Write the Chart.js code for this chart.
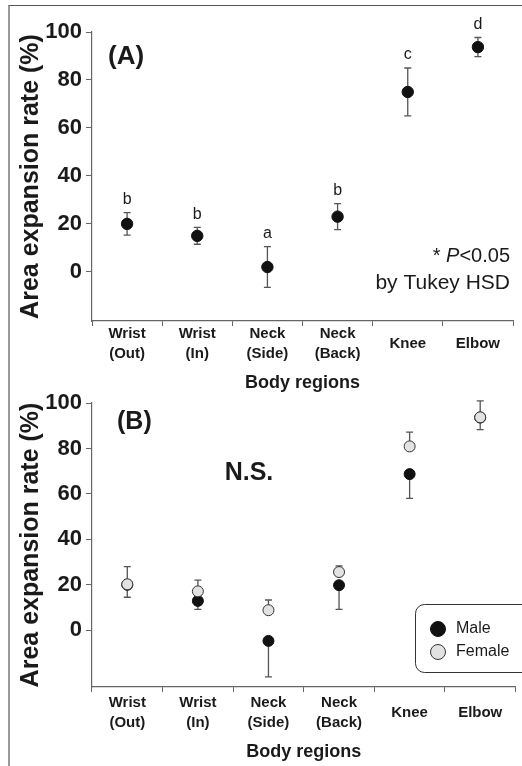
<!DOCTYPE html>
<html>
<head>
<meta charset="utf-8">
<script src="https://cdn.jsdelivr.net/npm/chart.js@4.4.0/dist/chart.umd.min.js"></script>
<style>
  body { margin: 0; background: #fff; }
  #wrap { position: relative; width: 522px; height: 766px; overflow: hidden; }
  #frame { position: absolute; left: 8px; top: 5px; right: 0; bottom: 0;
           border-top: 1px solid #555; border-left: 2px solid #999; }
  canvas { position: absolute; left: 0; }
  #chartA { top: 0; }
  #chartB { top: 370px; }
</style>
</head>
<body>
<div id="wrap">
  <div id="frame"></div>
  <canvas id="chartA" width="522" height="394"></canvas>
  <canvas id="chartB" width="522" height="396"></canvas>
</div>
<script>
// body regions on the x axis
const regions = [['Wrist', '(Out)'], ['Wrist', '(In)'], ['Neck', '(Side)'], ['Neck', '(Back)'], 'Knee', 'Elbow'];
const yTicks = [0, 20, 40, 60, 80, 100];

// (A) all subjects, mean +- SE, Tukey groups
const allMean = [20, 15, 2, 23, 75, 93.7];
const allSE = [4.7, 3.5, 8.5, 5.4, 10, 4];
const tukeyGroups = ['b', 'b', 'a', 'b', 'c', 'd'];

// (B) by sex: male bars drawn downward, female bars upward
const maleMean = [20, 12.9, -4.7, 19.8, 68.7, 93.6];
const maleSE = [5.5, 3.7, 15.8, 10.6, 10.7, 5.3];
const femaleMean = [20.2, 17.1, 8.8, 25.6, 80.9, 93.7];
const femaleSE = [7.8, 4.9, 4.5, 2.7, 6.3, 7.2];

const FONT = "'Liberation Sans', Arial, sans-serif";
const INK = '#1a1a1a';
const AXIS = '#666';

const errorBars = {
  id: 'errorBars',
  beforeDatasetsDraw(chart) {
    const {ctx, scales: {y}} = chart;
    ctx.save();
    ctx.strokeStyle = '#555';
    ctx.lineWidth = 1.3;
    chart.data.datasets.forEach((ds, i) => {
      chart.getDatasetMeta(i).data.forEach((pt, j) => {
        const m = ds.data[j];
        const up = ds.errUp ? ds.errUp[j] : 0;
        const down = ds.errDown ? ds.errDown[j] : 0;
        const hi = y.getPixelForValue(m + up);
        const lo = y.getPixelForValue(m - down);
        ctx.beginPath();
        ctx.moveTo(pt.x, hi);
        ctx.lineTo(pt.x, lo);
        if (up) { ctx.moveTo(pt.x - 3.5, hi); ctx.lineTo(pt.x + 3.5, hi); }
        if (down) { ctx.moveTo(pt.x - 3.5, lo); ctx.lineTo(pt.x + 3.5, lo); }
        ctx.stroke();
      });
    });
    ctx.restore();
  }
};

const notesA = {
  id: 'notesA',
  afterDatasetsDraw(chart) {
    const {ctx, chartArea: a, scales: {x, y}} = chart;
    ctx.save();
    ctx.fillStyle = INK;
    ctx.textAlign = 'center';
    ctx.textBaseline = 'middle';
    ctx.font = '16px ' + FONT;
    tukeyGroups.forEach((g, j) => {
      ctx.fillText(g, x.getPixelForValue(j), y.getPixelForValue(allMean[j] + allSE[j]) - 13);
    });
    ctx.textAlign = 'left';
    ctx.font = 'bold 26px ' + FONT;
    ctx.fillText('(A)', a.left + 16, 57);
    // "* P<0.05" with italic P, right aligned
    const right = a.right - 3;
    ctx.font = '20px ' + FONT;
    const tail = '<0.05', head = '* ';
    const wTail = ctx.measureText(tail).width;
    const wHead = ctx.measureText(head).width;
    ctx.font = 'italic 20px ' + FONT;
    const wP = ctx.measureText('P').width;
    let px = right - wTail - wP - wHead;
    ctx.font = '20px ' + FONT;
    ctx.fillText(head, px, 256);
    ctx.font = 'italic 20px ' + FONT;
    ctx.fillText('P', px + wHead, 256);
    ctx.font = '20px ' + FONT;
    ctx.fillText(tail, px + wHead + wP, 256);
    ctx.textAlign = 'right';
    ctx.font = '21px ' + FONT;
    ctx.fillText('by Tukey HSD', right, 283);
    ctx.restore();
  }
};

const notesB = {
  id: 'notesB',
  afterDatasetsDraw(chart) {
    const {ctx, chartArea: a} = chart;
    ctx.save();
    ctx.fillStyle = INK;
    ctx.textBaseline = 'middle';
    ctx.textAlign = 'left';
    ctx.font = 'bold 25px ' + FONT;
    ctx.fillText('(B)', a.left + 25, 52);
    ctx.textAlign = 'center';
    ctx.fillText('N.S.', 249, 103);
    // legend box
    const bx = 415, by = 234, bw = 120, bh = 68;
    ctx.strokeStyle = '#333';
    ctx.lineWidth = 1;
    ctx.beginPath();
    ctx.roundRect(bx + 0.5, by + 0.5, bw, bh, 9);
    ctx.stroke();
    ctx.textAlign = 'left';
    ctx.font = '16px ' + FONT;
    chart.data.datasets.forEach((ds, k) => {
      const cy = by + 25 + k * 23;
      ctx.beginPath();
      ctx.arc(bx + 23, cy, 7.5, 0, Math.PI * 2);
      ctx.fillStyle = ds.pointBackgroundColor;
      ctx.fill();
      ctx.strokeStyle = ds.pointBorderColor;
      ctx.stroke();
      ctx.fillStyle = INK;
      ctx.fillText(ds.label, bx + 41, cy);
    });
    ctx.restore();
  }
};

function axes(opt) {
  return {
    x: {
      type: 'category',
      offset: true,
      afterFit: s => { s.height = opt.xHeight; },
      grid: { offset: true, drawOnChartArea: false, drawTicks: true, tickLength: 5, color: AXIS },
      border: { display: true, color: AXIS, width: 1.2 },
      ticks: { color: INK, font: { family: FONT, size: 15, weight: 'bold', lineHeight: 1.33 },
               padding: opt.xPad, crossAlign: 'center', maxRotation: 0, autoSkip: false },
      title: { display: true, text: 'Body regions', color: INK,
               font: { family: FONT, size: 18, weight: 'bold' }, padding: { top: 0, bottom: opt.titlePad } }
    },
    y: {
      min: opt.yMin,
      max: 100,
      afterFit: s => { s.width = 92; },
      afterBuildTicks: s => { s.ticks = yTicks.map(v => ({ value: v })); },
      grid: { drawOnChartArea: false, drawTicks: true, tickLength: 6, color: AXIS },
      border: { display: true, color: AXIS, width: 1.2 },
      ticks: { color: INK, padding: 4, font: { family: FONT, size: 22, weight: 'bold' } },
      title: { display: true, text: 'Area expansion rate (%)', color: INK,
               font: { family: FONT, size: 25, weight: 'bold' }, padding: { top: 16, bottom: 0 } }
    }
  };
}

new Chart(document.getElementById('chartA'), {
  type: 'line',
  data: {
    labels: regions,
    datasets: [{
      label: 'All',
      data: allMean,
      errUp: allSE,
      errDown: allSE,
      showLine: false,
      pointRadius: 5.7,
      pointBackgroundColor: '#111',
      pointBorderColor: '#111',
      pointBorderWidth: 1
    }]
  },
  options: {
    responsive: false,
    animation: false,
    events: [],
    layout: { padding: { top: 32, right: 9, bottom: 0, left: 0 } },
    plugins: { legend: { display: false }, tooltip: { enabled: false } },
    scales: axes({ yMin: -20.5, xHeight: 73, xPad: 8, titlePad: 0 })
  },
  plugins: [errorBars, notesA]
});

new Chart(document.getElementById('chartB'), {
  type: 'line',
  data: {
    labels: regions,
    datasets: [{
      label: 'Male',
      data: maleMean,
      errDown: maleSE,
      order: 1,
      showLine: false,
      pointRadius: 5.5,
      pointBackgroundColor: '#111',
      pointBorderColor: '#111',
      pointBorderWidth: 1
    }, {
      label: 'Female',
      data: femaleMean,
      errUp: femaleSE,
      order: 0,
      showLine: false,
      pointRadius: 5.5,
      pointBackgroundColor: '#e2e2e2',
      pointBorderColor: '#333',
      pointBorderWidth: 1
    }]
  },
  options: {
    responsive: false,
    animation: false,
    events: [],
    layout: { padding: { top: 33, right: 4, bottom: 0, left: 0 } },
    plugins: { legend: { display: false }, tooltip: { enabled: false } },
    scales: axes({ yMin: -25, xHeight: 79, xPad: 11, titlePad: 3 })
  },
  plugins: [errorBars, notesB]
});
</script>
</body>
</html>
